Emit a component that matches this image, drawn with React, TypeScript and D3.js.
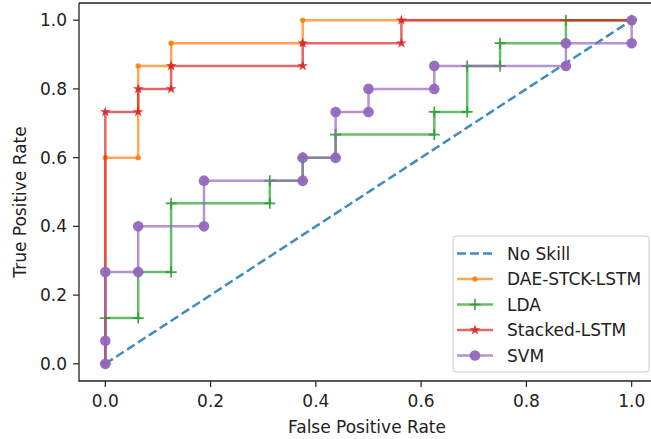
import * as d3 from "d3";

// ROC points
const noSkillFpr = [0, 1];
const noSkillTpr = [0, 1];

const daeFpr = [0, 0, 0.0625, 0.0625, 0.125, 0.125, 0.375, 0.375, 1];
const daeTpr = [0, 0.6, 0.6, 0.867, 0.867, 0.933, 0.933, 1, 1];

const ldaFpr = [0, 0, 0.0625, 0.0625, 0.125, 0.125, 0.3125, 0.3125, 0.375, 0.375, 0.4375, 0.4375, 0.625, 0.625, 0.6875, 0.6875, 0.75, 0.75, 0.875, 0.875, 1];
const ldaTpr = [0, 0.133, 0.133, 0.267, 0.267, 0.467, 0.467, 0.533, 0.533, 0.6, 0.6, 0.667, 0.667, 0.733, 0.733, 0.867, 0.867, 0.933, 0.933, 1, 1];

const stackedFpr = [0, 0, 0.0625, 0.0625, 0.125, 0.125, 0.375, 0.375, 0.5625, 0.5625, 1];
const stackedTpr = [0, 0.733, 0.733, 0.8, 0.8, 0.867, 0.867, 0.933, 0.933, 1, 1];

const svmFpr = [0, 0, 0, 0.0625, 0.0625, 0.1875, 0.1875, 0.375, 0.375, 0.4375, 0.4375, 0.5, 0.5, 0.625, 0.625, 0.875, 0.875, 1, 1];
const svmTpr = [0, 0.067, 0.267, 0.267, 0.4, 0.4, 0.533, 0.533, 0.6, 0.6, 0.733, 0.733, 0.8, 0.8, 0.867, 0.867, 0.933, 0.933, 1];

const ticks = [0, 0.2, 0.4, 0.6, 0.8, 1.0];

const series = [
  { name: "No Skill", fpr: noSkillFpr, tpr: noSkillTpr, color: "#1f77b4", marker: "none", dash: "9,4" },
  { name: "DAE-STCK-LSTM", fpr: daeFpr, tpr: daeTpr, color: "#ff7f0e", marker: "dot", dash: null },
  { name: "LDA", fpr: ldaFpr, tpr: ldaTpr, color: "#2ca02c", marker: "plus", dash: null },
  { name: "Stacked-LSTM", fpr: stackedFpr, tpr: stackedTpr, color: "#d62728", marker: "star", dash: null },
  { name: "SVM", fpr: svmFpr, tpr: svmTpr, color: "#9467bd", marker: "circle", dash: null },
];

const W = 651;
const H = 439;
const font = "DejaVu Sans, sans-serif";
const fs = 17;

const Marker = ({ kind, x, y, color }: { kind: string; x: number; y: number; color: string }) => {
  if (kind === "dot") return <circle cx={x} cy={y} r={2.7} fill={color} opacity={0.9} />;
  if (kind === "circle") return <circle cx={x} cy={y} r={5.3} fill={color} opacity={0.95} />;
  if (kind === "plus")
    return (
      <path d={`M${x - 5.5},${y}H${x + 5.5}M${x},${y - 5.5}V${y + 5.5}`} stroke={color} strokeWidth={1.7} opacity={0.9} />
    );
  if (kind === "star") {
    const star = d3.symbol(d3.symbolStar, 36)();
    return <path d={star || ""} transform={`translate(${x},${y})`} fill={color} opacity={0.9} />;
  }
  return null;
};

export default function App() {
  const x = d3.scaleLinear([-0.05, 1.05], [79, 658]);
  const y = d3.scaleLinear([-0.05, 1.05], [381, 3]);
  const line = d3.line<[number, number]>((d) => x(d[0]), (d) => y(d[1]));

  const legX = 453;
  const legY = 236;
  const legStep = 25.5;

  return (
    <svg width={W} height={H} style={{ position: "absolute", left: 0, top: 0 }} fontFamily={font}>
      <rect width={W} height={H} fill="white" />

      {series.map((s) => {
        const pts = s.fpr.map((f, i) => [f, s.tpr[i]] as [number, number]);
        return (
          <g key={s.name}>
            <path
              d={line(pts) || ""}
              fill="none"
              stroke={s.color}
              strokeWidth={2.5}
              strokeOpacity={s.dash ? 0.85 : 0.7}
              strokeDasharray={s.dash || undefined}
            />
            {s.marker !== "none" &&
              pts.map((p, i) => <Marker key={i} kind={s.marker} x={x(p[0])} y={y(p[1])} color={s.color} />)}
          </g>
        );
      })}

      {/* spines */}
      <path d={`M79,3H658M79,3V381H658`} fill="none" stroke="#222" strokeWidth={1.3} />

      {/* x ticks */}
      {ticks.map((t) => (
        <g key={"x" + t}>
          <line x1={x(t)} x2={x(t)} y1={381} y2={387} stroke="#222" strokeWidth={1.2} />
          <text x={x(t)} y={401} textAnchor="middle" dominantBaseline="central" fontSize={fs} fill="#222">
            {t.toFixed(1)}
          </text>
        </g>
      ))}
      {/* y ticks */}
      {ticks.map((t) => (
        <g key={"y" + t}>
          <line x1={73} x2={79} y1={y(t)} y2={y(t)} stroke="#222" strokeWidth={1.2} />
          <text x={67} y={y(t)} textAnchor="end" dominantBaseline="central" fontSize={fs} fill="#222">
            {t.toFixed(1)}
          </text>
        </g>
      ))}

      <text x={367} y={427} textAnchor="middle" dominantBaseline="central" fontSize={fs} fill="#222">
        False Positive Rate
      </text>
      <text
        transform={`translate(20,202) rotate(-90)`}
        textAnchor="middle"
        dominantBaseline="central"
        fontSize={fs}
        fill="#222"
      >
        True Positive Rate
      </text>

      {/* legend */}
      <rect x={legX} y={legY} width={196} height={136} rx={3} fill="white" fillOpacity={0.85} stroke="#cccccc" strokeWidth={1} />
      {series.map((s, i) => {
        const cy = legY + 17.5 + i * legStep;
        return (
          <g key={"leg" + s.name}>
            <line
              x1={457}
              x2={493}
              y1={cy}
              y2={cy}
              stroke={s.color}
              strokeWidth={2.5}
              strokeOpacity={s.dash ? 0.85 : 0.7}
              strokeDasharray={s.dash || undefined}
            />
            {s.marker !== "none" && <Marker kind={s.marker} x={475} y={cy} color={s.color} />}
            <text x={507} y={cy} dominantBaseline="central" fontSize={fs} fill="#222">
              {s.name}
            </text>
          </g>
        );
      })}
    </svg>
  );
}
